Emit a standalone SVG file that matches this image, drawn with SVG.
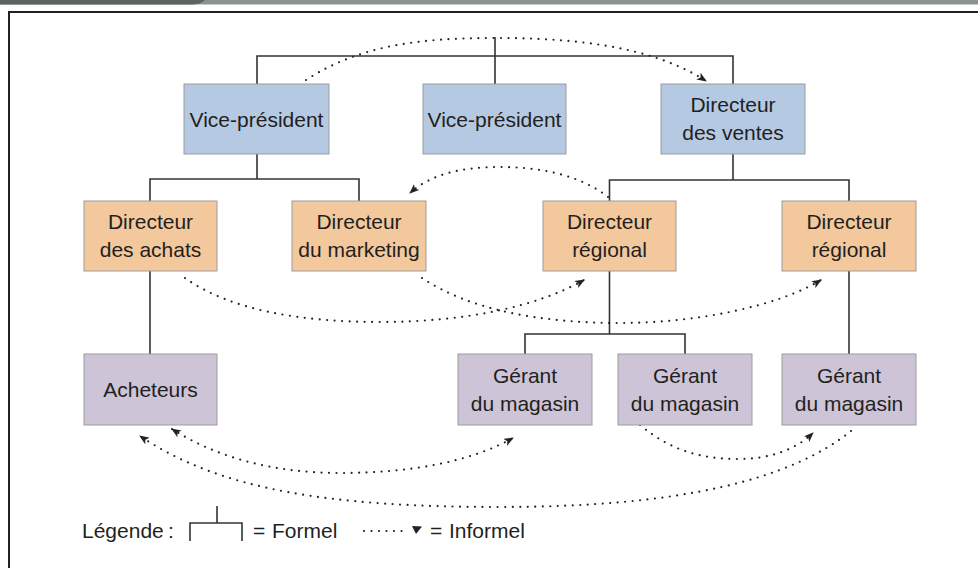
<svg xmlns="http://www.w3.org/2000/svg" width="978" height="568" viewBox="0 0 978 568">
<style>
.box{stroke:#9c9c9c;stroke-width:1}
.blue{fill:#b5c9e3}
.orange{fill:#f3c89c}
.purple{fill:#cdc4d7}
.t{font-family:"Liberation Sans",Arial,sans-serif;font-size:21px;fill:#231f20;text-anchor:middle}
.lg{font-family:"Liberation Sans",Arial,sans-serif;font-size:21px;fill:#231f20}
.formal{fill:none;stroke:#333;stroke-width:1.6}
.informal{fill:none;stroke:#222;stroke-width:2.2;stroke-linecap:round;stroke-dasharray:0 7.5}
</style>
<defs>
<marker id="ah" viewBox="0 0 10 8" refX="9" refY="4" markerWidth="10" markerHeight="8" orient="auto-start-reverse" markerUnits="userSpaceOnUse">
<path d="M0,0 L10,4 L0,8 L2.5,4 z" fill="#222"/>
</marker>
</defs>
<rect x="0" y="0" width="978" height="568" fill="#ffffff"/>
<rect x="0" y="0" width="978" height="4.5" fill="#8a938f"/>
<path d="M0,0 H205 Q200,4.5 192,4.5 H0 z" fill="#5b6460"/>
<path d="M9,568 V12 H978" fill="none" stroke="#222" stroke-width="2"/>

<g id="connectors">
<path class="formal" d="M495,37 V84 M257,84 V56 H733 V84"/>
<path class="formal" d="M257,154 V179 M150,201 V179 H359 V201"/>
<path class="formal" d="M733,154 V180 M609.5,201 V180 H849 V201"/>
<path class="formal" d="M150,271 V354"/>
<path class="formal" d="M609.5,271 V334 M525,354 V334 H685 V354"/>
<path class="formal" d="M849,271 V354"/>
<path class="informal" d="M306,80 C360,45 420,38 495,38 C570,38 650,45 706,81" marker-end="url(#ah)"/>
<path class="informal" d="M608,197 C580,175 540,167 500,167 C460,167 430,175 410,193" marker-end="url(#ah)"/>
<path class="informal" d="M185,278 C230,310 300,322 380,322 C470,322 540,305 584,280" marker-end="url(#ah)"/>
<path class="informal" d="M422,278 C470,310 540,323 620,323 C700,323 780,305 821,280" marker-end="url(#ah)"/>
<path class="informal" d="M172,429 C220,460 280,473 340,473 C410,473 470,462 513,438" marker-start="url(#ah)" marker-end="url(#ah)"/>
<path class="informal" d="M851,431 C790,480 680,507 500,507 C330,507 220,490 140,436" marker-end="url(#ah)"/>
<path class="informal" d="M640,425 C670,450 700,459 738,459 C770,459 795,450 813,433" marker-end="url(#ah)"/>
</g>

<g id="vp1"><rect class="box blue" x="184" y="84" width="145" height="70"/><text class="t" x="256.5" y="127">Vice-président</text></g>
<g id="vp2"><rect class="box blue" x="423" y="84" width="143" height="70"/><text class="t" x="494.5" y="127">Vice-président</text></g>
<g id="dir-ventes"><rect class="box blue" x="661" y="84" width="144" height="70"/><text class="t" x="733" y="112">Directeur</text><text class="t" x="733" y="140">des ventes</text></g>

<g id="dir-achats"><rect class="box orange" x="84" y="201" width="133" height="70"/><text class="t" x="150.5" y="229">Directeur</text><text class="t" x="150.5" y="257">des achats</text></g>
<g id="dir-marketing"><rect class="box orange" x="292" y="201" width="134" height="70"/><text class="t" x="359" y="229">Directeur</text><text class="t" x="359" y="257">du marketing</text></g>
<g id="dir-regional-1"><rect class="box orange" x="543" y="201" width="133" height="70"/><text class="t" x="609.5" y="229">Directeur</text><text class="t" x="609.5" y="257">régional</text></g>
<g id="dir-regional-2"><rect class="box orange" x="782" y="201" width="134" height="70"/><text class="t" x="849" y="229">Directeur</text><text class="t" x="849" y="257">régional</text></g>

<g id="acheteurs"><rect class="box purple" x="84" y="354" width="133" height="71"/><text class="t" x="150.5" y="397">Acheteurs</text></g>
<g id="gerant-1"><rect class="box purple" x="458" y="354" width="134" height="71"/><text class="t" x="525" y="383">Gérant</text><text class="t" x="525" y="411">du magasin</text></g>
<g id="gerant-2"><rect class="box purple" x="618" y="354" width="134" height="71"/><text class="t" x="685" y="383">Gérant</text><text class="t" x="685" y="411">du magasin</text></g>
<g id="gerant-3"><rect class="box purple" x="782" y="354" width="134" height="71"/><text class="t" x="849" y="383">Gérant</text><text class="t" x="849" y="411">du magasin</text></g>

<g id="legend">
<text class="lg" x="82" y="538">Légende<tspan x="168">:</tspan></text>
<path class="formal" d="M217,506 V523 M190,541 V523 H242 V541"/>
<text class="lg" x="253" y="538">=<tspan x="272">Formel</tspan></text>
<path class="informal" d="M364,531 H407"/>
<path d="M412,526 L422,526.5 L416,534 z" fill="#222"/>
<text class="lg" x="430" y="538">=<tspan x="449">Informel</tspan></text>
</g>
</svg>
